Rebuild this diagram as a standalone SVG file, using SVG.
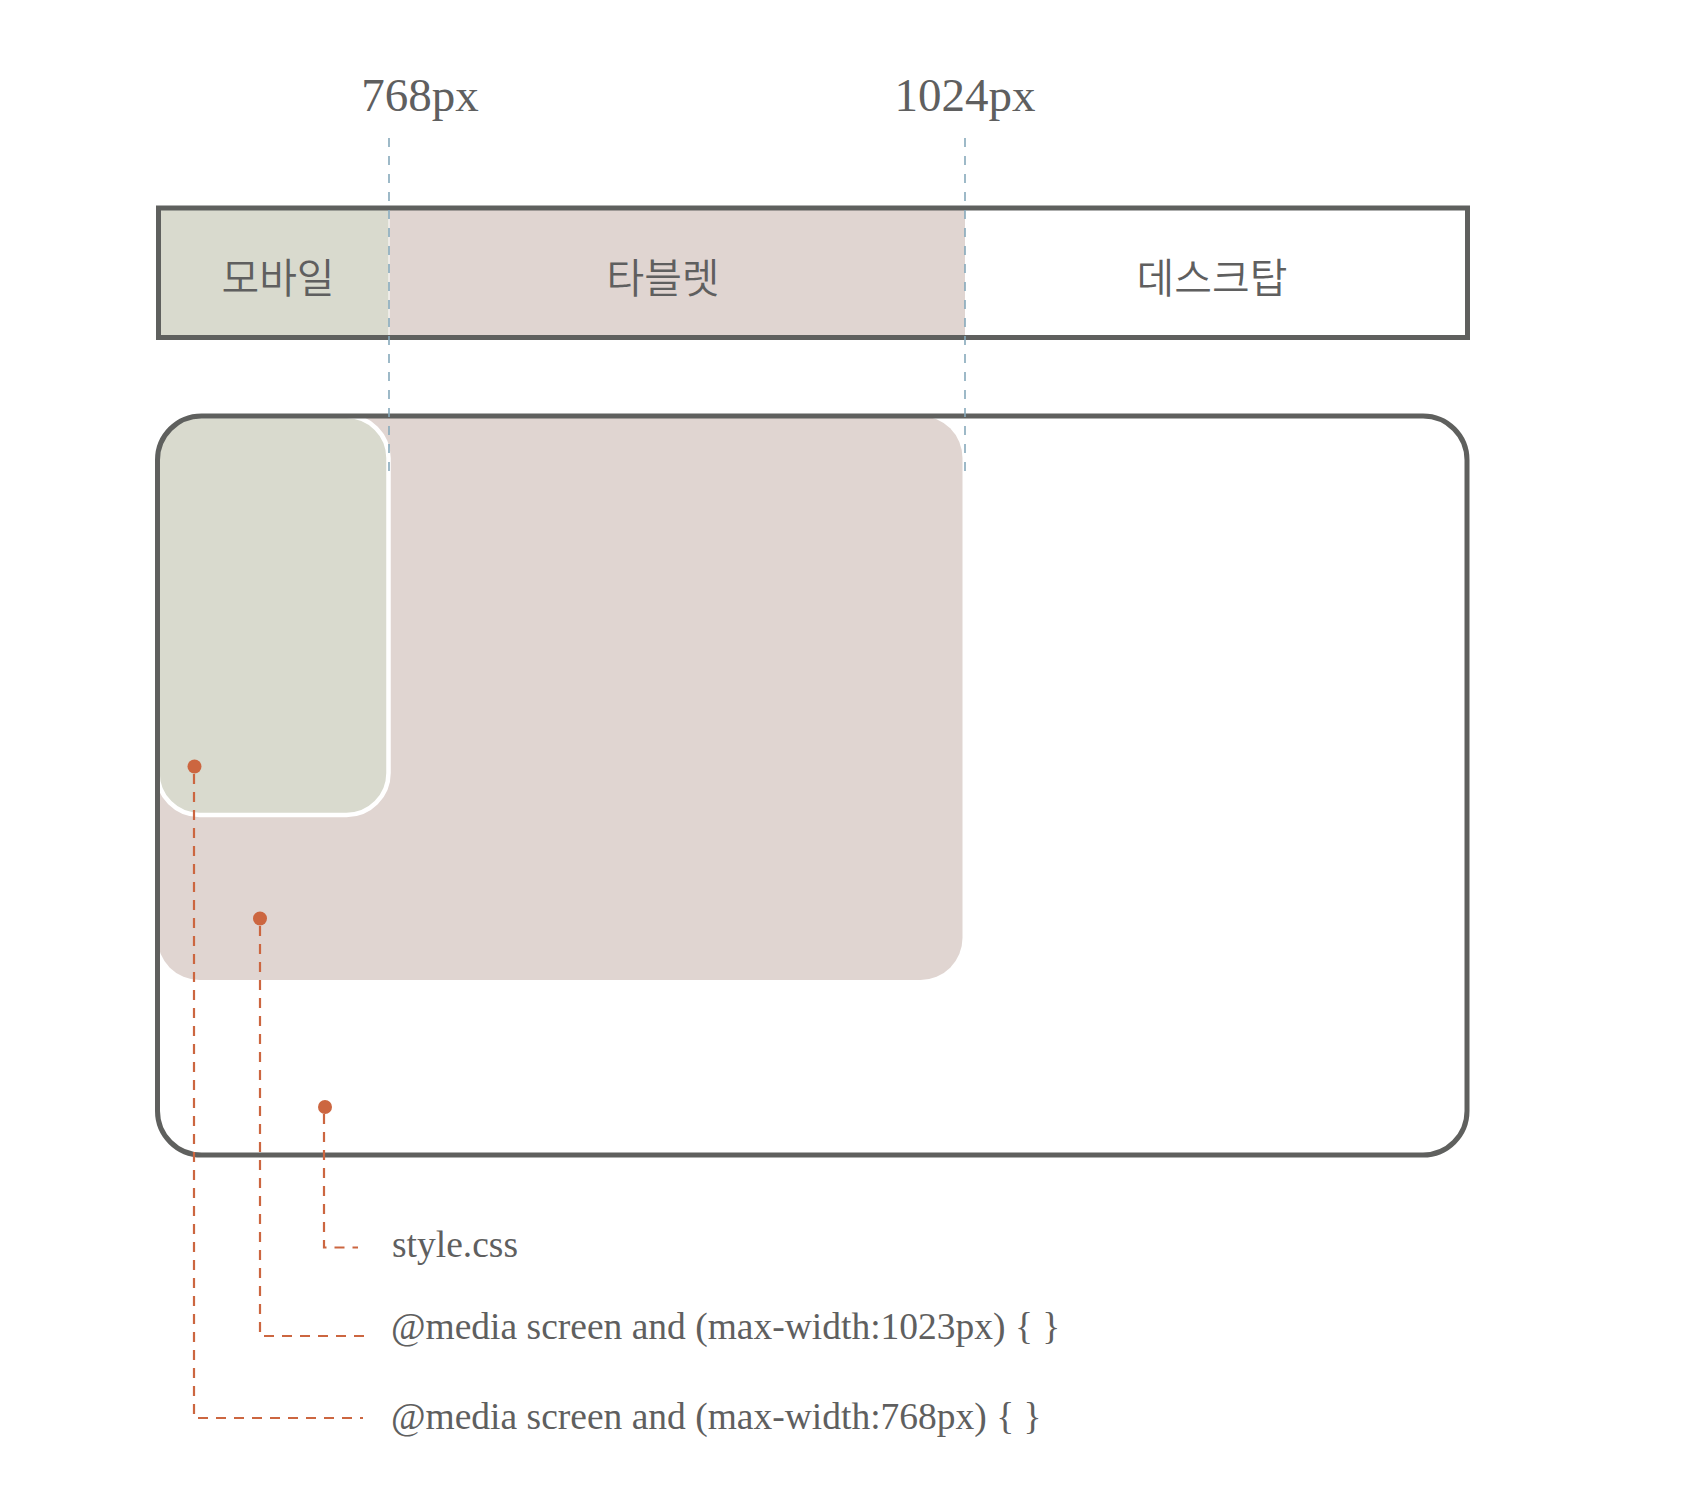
<svg xmlns="http://www.w3.org/2000/svg" width="1690" height="1506" viewBox="0 0 1690 1506">
  <style>
    .lbl { font-family: "Liberation Serif", "DejaVu Serif", serif; fill: #5f5f5f; }
    .kr { font-family: "Noto Sans CJK KR", "Noto Sans", sans-serif; font-weight: 350; fill: #5f5f5f; font-size: 41px; text-anchor: middle; }
    .frame { fill: none; stroke: #5f605e; stroke-width: 5; }
    .bp { stroke: #86a9bb; stroke-width: 1.6; stroke-dasharray: 9 9; fill: none; }
    .lead { stroke: #cc6640; stroke-width: 2.2; stroke-dasharray: 10 8; fill: none; }
    .dot { fill: #cc6640; }
  </style>
  <rect width="1690" height="1506" fill="#ffffff"/>

  <g id="breakpoint-labels">
    <text class="lbl" x="420" y="111" font-size="47" text-anchor="middle">768px</text>
    <text class="lbl" x="965" y="111" font-size="47" text-anchor="middle">1024px</text>
  </g>

  <g id="range-bar">
    <rect x="158.5" y="208" width="230.5" height="129.5" fill="#d9dace"/>
    <rect x="389" y="208" width="576" height="129.5" fill="#e0d5d1"/>
    <line x1="389" y1="210" x2="389" y2="335" stroke="#ffffff" stroke-width="1"/>
    <rect class="frame" x="158.5" y="208" width="1309" height="129.5"/>
    <text class="kr" x="278" y="293">모바일</text>
    <text class="kr" x="663" y="293">타블렛</text>
    <text class="kr" x="1212" y="293">데스크탑</text>
  </g>

  <g id="desktop-screen">
    <rect x="157.5" y="416" width="1309.5" height="739" rx="44" fill="#ffffff"/>
  </g>
  <g id="tablet-screen">
    <rect x="157.5" y="416" width="805" height="564" rx="42" fill="#e0d5d1"/>
  </g>
  <g id="mobile-screen">
    <rect x="157.5" y="416" width="231" height="399" rx="42" fill="#d9dace" stroke="#ffffff" stroke-width="4.5"/>
  </g>
  <g id="desktop-frame">
    <rect class="frame" x="157.5" y="416" width="1309.5" height="739" rx="44"/>
  </g>

  <g id="connectors">
    <line class="bp" x1="389" y1="138" x2="389" y2="472"/>
    <line class="bp" x1="965" y1="138" x2="965" y2="472"/>
    <path class="lead" d="M194 774 V1418 H363"/>
    <path class="lead" d="M260 926 V1336 H364"/>
    <path class="lead" d="M324 1114 V1247.5 H358"/>
    <circle class="dot" cx="194.5" cy="766.5" r="7"/>
    <circle class="dot" cx="260" cy="918.5" r="7"/>
    <circle class="dot" cx="325" cy="1107" r="7"/>
  </g>

  <g id="css-labels">
    <text class="lbl" x="392" y="1257" font-size="37.5">style.css</text>
    <text class="lbl" x="391" y="1339" font-size="37.5">@media screen and (max-width:1023px) { }</text>
    <text class="lbl" x="391" y="1429" font-size="37.5">@media screen and (max-width:768px) { }</text>
  </g>
</svg>
